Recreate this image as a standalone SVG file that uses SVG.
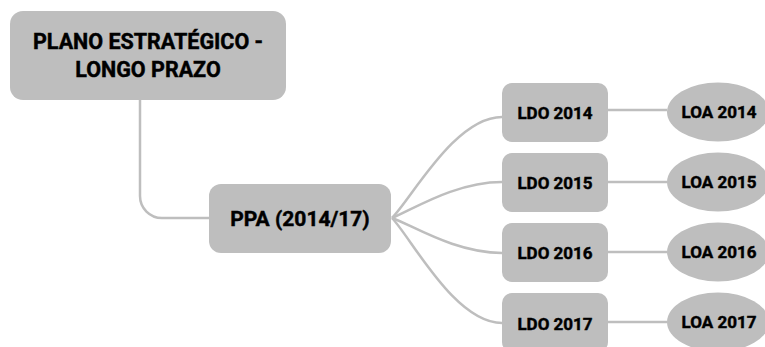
<svg xmlns="http://www.w3.org/2000/svg" width="765" height="347" viewBox="0 0 765 347">
<style>
.box{fill:#bebebe}
.ell{fill:#bebebe}
.con{fill:none;stroke:#bebebe;stroke-width:2.5}
text{font-family:Roboto,"Liberation Sans",sans-serif;font-weight:bold;fill:#000;stroke:#000;stroke-width:0.45;text-anchor:middle}
.t1{font-size:21.5px}
.t2{font-size:21px}
.t3{font-size:17px}
</style>
<rect width="765" height="347" fill="#ffffff"/>
<g id="connectors">
<path class="con" d="M140,100 V196 A22,22 0 0 0 162,218 H209"/>
<path class="con" d="M392,218 C412,198 455,117 502,117"/>
<path class="con" d="M392,218 C412,210 455,182 502,182"/>
<path class="con" d="M392,218 C412,225 455,253 502,253"/>
<path class="con" d="M392,218 C412,239 455,323 502,323"/>
<path class="con" d="M608,110 H667"/>
<path class="con" d="M608,182 H667"/>
<path class="con" d="M608,252 H667"/>
<path class="con" d="M608,322 H667"/>
</g>
<g id="plano">
<rect class="box" x="10" y="11" width="276" height="89" rx="13"/>
<text class="t1" x="148" y="49">PLANO ESTRATÉGICO -</text>
<text class="t1" x="148" y="77">LONGO PRAZO</text>
</g>
<g id="ppa">
<rect class="box" x="209" y="184" width="182" height="69" rx="12"/>
<text class="t2" x="300" y="226">PPA (2014/17)</text>
</g>
<g id="ldo2014">
<rect class="box" x="502" y="83" width="106" height="59" rx="10"/>
<text class="t3" x="555" y="119">LDO 2014</text>
</g>
<g id="ldo2015">
<rect class="box" x="502" y="153" width="106" height="59" rx="10"/>
<text class="t3" x="555" y="189">LDO 2015</text>
</g>
<g id="ldo2016">
<rect class="box" x="502" y="223" width="106" height="59" rx="10"/>
<text class="t3" x="555" y="259">LDO 2016</text>
</g>
<g id="ldo2017">
<rect class="box" x="502" y="293" width="106" height="59" rx="10"/>
<text class="t3" x="555" y="330">LDO 2017</text>
</g>
<g id="loa2014">
<ellipse class="ell" cx="718" cy="112" rx="51" ry="29.5"/>
<text class="t3" x="719" y="118">LOA 2014</text>
</g>
<g id="loa2015">
<ellipse class="ell" cx="718" cy="182" rx="51" ry="29.5"/>
<text class="t3" x="719" y="188">LOA 2015</text>
</g>
<g id="loa2016">
<ellipse class="ell" cx="718" cy="252" rx="51" ry="29.5"/>
<text class="t3" x="719" y="258">LOA 2016</text>
</g>
<g id="loa2017">
<ellipse class="ell" cx="718" cy="322" rx="51" ry="29.5"/>
<text class="t3" x="719" y="328">LOA 2017</text>
</g>
</svg>
